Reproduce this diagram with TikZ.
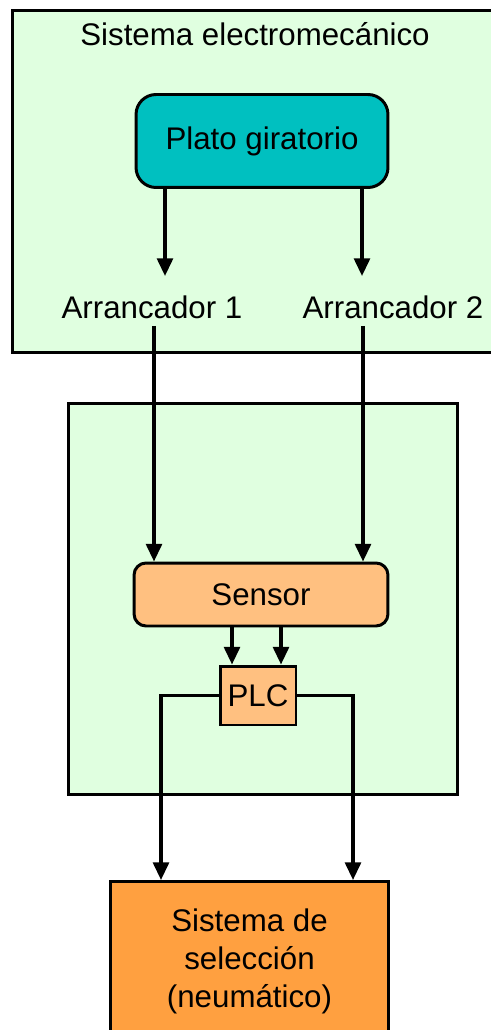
\documentclass[tikz,border=0pt]{standalone}
\usepackage{fontspec}
\setmainfont{Liberation Sans}
\usetikzlibrary{positioning, arrows.meta, calc}
\definecolor{verdeclaro}{HTML}{E0FFE0}
\definecolor{turquesa}{HTML}{00C0C0}
\definecolor{melocoton}{HTML}{FFC080}
\definecolor{naranja}{HTML}{FFA040}
\begin{document}
\begin{tikzpicture}[x=0.02cm, y=-0.02cm, >={Triangle[width=9pt,length=10pt]},
        line width=1.7pt, font=\fontsize{17.8}{21.6}\selectfont,
        zona/.style={draw, fill=verdeclaro, anchor=north west},
        bloque/.style={draw, inner sep=1pt},
        flecha/.style={->, line width=1.8pt}]
        \useasboundingbox (0,0) rectangle (490,1030);

        \node[zona, minimum width=9.74cm, minimum height=6.84cm] (electro) at (11,9) {};
        \node (titulo) at (255,34) {Sistema electromec\'anico};
        \node[bloque, fill=turquesa, rounded corners=0.4cm, minimum width=5.04cm, minimum height=1.86cm] (plato) at (262,141) {Plato giratorio};
        \node (arr1) at (152,307) {Arrancador 1};
        \node (arr2) at (393,307) {Arrancador 2};

        \node[zona, minimum width=7.78cm, minimum height=7.82cm] (control) at (67,402) {};
        \node[bloque, fill=melocoton, rounded corners=0.24cm, minimum width=5.08cm, minimum height=1.26cm] (sensor) at (261,594.5) {Sensor};
        \node[bloque, fill=melocoton, minimum width=1.52cm, minimum height=1.18cm] (plc) at (258,695.5) {PLC};

        \node[bloque, fill=naranja, align=center, minimum width=5.58cm, minimum height=3.2cm, anchor=north] (sel) at (249.5,880) {Sistema de\\selecci\'on\\(neum\'atico)};

        \draw[flecha] (plato.south -| 165,0) -- ++(0,87);
        \draw[flecha] (plato.south -| 362,0) -- ++(0,87);
        \draw[flecha] (arr1.south -| 154,0) -- (sensor.north -| 154,0);
        \draw[flecha] (arr2.south -| 363,0) -- (sensor.north -| 363,0);
        \draw[flecha] (sensor.south -| 232,0) -- (plc.north -| 232,0);
        \draw[flecha] (sensor.south -| 281,0) -- (plc.north -| 281,0);
        \draw[flecha] (plc.west) -| (sel.north -| 161,0);
        \draw[flecha] (plc.east) -| (sel.north -| 353,0);
      \end{tikzpicture}
\end{document}
